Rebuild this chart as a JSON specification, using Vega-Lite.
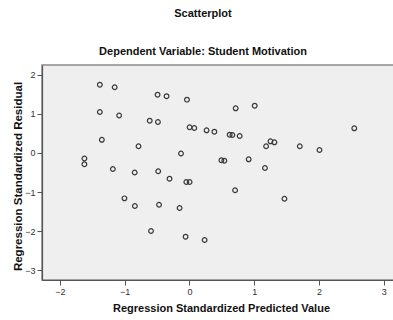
{
  "$schema": "https://vega.github.io/schema/vega-lite/v6.json",
  "width": 358,
  "height": 215,
  "autosize": {"type": "none"},
  "padding": {"left": 42, "top": 65, "right": 0, "bottom": 40},
  "background": "white",
  "title": {
    "text": "Scatterplot",
    "subtitle": "Dependent Variable: Student Motivation",
    "anchor": "middle",
    "frame": "group",
    "dx": -18,
    "font": "Liberation Sans",
    "fontSize": 11,
    "fontWeight": "bold",
    "color": "#111",
    "subtitleFont": "Liberation Sans",
    "subtitleFontSize": 11,
    "subtitleFontWeight": "bold",
    "subtitleColor": "#111",
    "subtitlePadding": 27,
    "offset": 8
  },
  "data": {
    "values": [
      {"pred": -1.384, "resid": 1.751},
      {"pred": -1.155, "resid": 1.685},
      {"pred": -0.493, "resid": 1.495},
      {"pred": -0.354, "resid": 1.456},
      {"pred": -0.039, "resid": 1.367},
      {"pred": -1.384, "resid": 1.051},
      {"pred": -1.086, "resid": 0.962},
      {"pred": -0.614, "resid": 0.828},
      {"pred": -0.487, "resid": 0.795},
      {"pred": -1.353, "resid": 0.338},
      {"pred": -0.787, "resid": 0.174},
      {"pred": -1.622, "resid": -0.141},
      {"pred": -1.622, "resid": -0.287},
      {"pred": -1.183, "resid": -0.41},
      {"pred": -0.846, "resid": -0.5},
      {"pred": -0.483, "resid": -0.469},
      {"pred": -0.308, "resid": -0.659},
      {"pred": -0.049, "resid": -0.744},
      {"pred": 0.002, "resid": -0.744},
      {"pred": -1.004, "resid": -1.162},
      {"pred": -0.843, "resid": -1.359},
      {"pred": -0.47, "resid": -1.326},
      {"pred": -0.594, "resid": -2.0},
      {"pred": -0.153, "resid": -1.41},
      {"pred": -0.06, "resid": -2.146},
      {"pred": 0.234, "resid": -2.231},
      {"pred": 0.002, "resid": 0.659},
      {"pred": 0.074, "resid": 0.641},
      {"pred": 0.264, "resid": 0.582},
      {"pred": 0.384, "resid": 0.546},
      {"pred": 0.62, "resid": 0.469},
      {"pred": 0.662, "resid": 0.462},
      {"pred": 0.775, "resid": 0.436},
      {"pred": 0.713, "resid": 1.146},
      {"pred": 1.007, "resid": 1.213},
      {"pred": -0.131, "resid": -0.013},
      {"pred": 0.492, "resid": -0.187},
      {"pred": 0.538, "resid": -0.197},
      {"pred": 0.914, "resid": -0.162},
      {"pred": 1.25, "resid": 0.3},
      {"pred": 1.311, "resid": 0.274},
      {"pred": 1.183, "resid": 0.174},
      {"pred": 1.165, "resid": -0.385},
      {"pred": 0.704, "resid": -0.956},
      {"pred": 1.466, "resid": -1.172},
      {"pred": 1.703, "resid": 0.172},
      {"pred": 2.007, "resid": 0.077},
      {"pred": 2.544, "resid": 0.633}
    ]
  },
  "mark": {
    "type": "point",
    "shape": "circle",
    "filled": false,
    "size": 22,
    "stroke": "#3a3a3a",
    "strokeWidth": 1.2,
    "opacity": 1
  },
  "encoding": {
    "x": {
      "field": "pred",
      "type": "quantitative",
      "title": "Regression Standardized Predicted Value",
      "scale": {"domain": [-2.277, 3.25], "nice": false, "zero": false},
      "axis": {"values": [-2, -1, 0, 1, 2, 3], "grid": false, "titlePadding": 6}
    },
    "y": {
      "field": "resid",
      "type": "quantitative",
      "title": "Regression Standardized Residual",
      "scale": {"domain": [-3.256, 2.256], "nice": false, "zero": false},
      "axis": {"values": [-3, -2, -1, 0, 1, 2], "grid": false, "titlePadding": 1, "titleY": 111, "titleFontSize": 11.5}
    }
  },
  "config": {
    "view": {"fill": "#efefef", "stroke": "#8a8a8a", "strokeWidth": 1.5},
    "axis": {
      "domainColor": "#555",
      "domainWidth": 1.2,
      "tickColor": "#555",
      "tickSize": 5,
      "tickWidth": 1,
      "labelFont": "Liberation Sans",
      "labelFontSize": 9,
      "labelColor": "#333",
      "titleFont": "Liberation Sans",
      "titleFontSize": 11,
      "titleFontWeight": "bold",
      "titleColor": "#111",
      "labelPadding": 2
    }
  }
}
